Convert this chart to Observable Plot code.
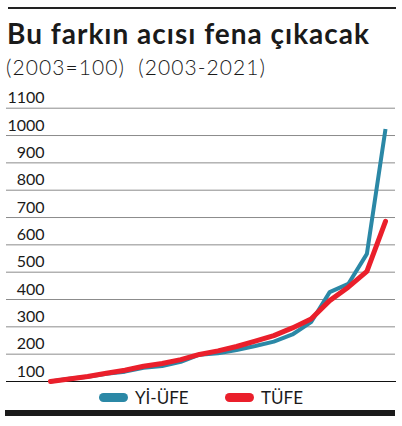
<!DOCTYPE html>
<html>
<head>
<meta charset="utf-8">
<script src="https://cdn.jsdelivr.net/npm/d3@7"></script>
<script src="https://cdn.jsdelivr.net/npm/@observablehq/plot@0.6"></script>
<style>
  html, body { margin: 0; padding: 0; background: #fff; }
  #wrap { position: relative; width: 402px; height: 426px; overflow: hidden; font-family: Lato, sans-serif; }
  #topline { position: absolute; left: 8px; top: 7px; width: 388px; height: 2px; background: #222; }
  #title { position: absolute; left: 7px; top: 16px; font-size: 28px; line-height: 34px; font-weight: 700; color: #1a1a1a; white-space: nowrap; }
  #subtitle { position: absolute; left: 6px; top: 54px; font-size: 21px; line-height: 26px; font-weight: 300; color: #1a1a1a; white-space: nowrap; }
  #chart { position: absolute; left: 0; top: 80px; }
  #chart svg { overflow: visible; }
  #legend { position: absolute; top: 386px; left: 0; width: 402px; height: 22px; font-size: 17px; color: #1a1a1a; }
  .item { position: absolute; top: 0; display: flex; align-items: center; height: 22px; }
  .sw { width: 29px; height: 9px; border-radius: 5px; margin-right: 7px; }
  #bottombar { position: absolute; left: 5px; top: 410px; width: 390px; height: 6px; background: #1a1a1a; }
</style>
</head>
<body>
<div id="wrap">
  <div id="topline"></div>
  <div id="title">Bu farkın acısı fena çıkacak</div>
  <div id="subtitle">(2003=100)&nbsp; (2003-2021)</div>
  <div id="chart"></div>
  <div id="legend"></div>
  <div id="bottombar"></div>
</div>
<script>
const years = [2003,2004,2005,2006,2007,2008,2009,2010,2011,2012,2013,2014,2015,2016,2017,2018,2019,2020,2021];
const yiufe = [100,110,117,128,136,150,157,172,198,203,215,230,246,272,317,427,457,567,1024];
const tufe  = [100,109,118,130,141,156,166,180,199,212,228,248,268,296,329,396,445,503,686];
const yTicks = [100,200,300,400,500,600,700,800,900,1000,1100];
const seriesNames = ["Yİ-ÜFE", "TÜFE"];
const seriesColors = ["#2b88a6", "#ea1f2b"];

// fit header texts to the widths seen in the reference
function fit(id, target) {
  const el = document.getElementById(id);
  const n = el.textContent.length;
  const w = el.getBoundingClientRect().width;
  el.style.letterSpacing = ((target - w) / (n - 1)) + "px";
}
fit("title", 362);
fit("subtitle", 259);

const data = [];
years.forEach((yr, i) => {
  data.push({year: yr, value: yiufe[i], series: seriesNames[0]});
  data.push({year: yr, value: tufe[i], series: seriesNames[1]});
});

const chart = Plot.plot({
  width: 402,
  height: 310,
  marginLeft: 50,
  marginRight: 17,
  marginTop: 27.7,
  marginBottom: 9,
  style: { fontFamily: "Lato, sans-serif", fontSize: "16px", color: "#1a1a1a", background: "transparent" },
  x: { domain: [2003, 2021], axis: null },
  y: { domain: [100, 1100], axis: null },
  color: { domain: seriesNames, range: seriesColors },
  marks: [
    Plot.ruleY(yTicks.filter(d => d > 100), { stroke: "#8c8c8c", strokeWidth: 1, insetLeft: -44, insetRight: -10 }),
    Plot.ruleY([100], { stroke: "#111", strokeWidth: 1.2, insetLeft: -44, insetRight: -11 }),
    Plot.axisY(yTicks, { anchor: "left", label: null, tickFormat: d => String(d), tickSize: 0, tickPadding: 6, dy: -10, fontSize: 16, fill: "#1a1a1a" }),
    Plot.line(data.filter(d => d.series === seriesNames[0]), { x: "year", y: "value", stroke: "series", strokeWidth: 4, strokeLinejoin: "miter", strokeLinecap: "butt" }),
    Plot.line(data.filter(d => d.series === seriesNames[1]), { x: "year", y: "value", stroke: "series", strokeWidth: 5, strokeLinejoin: "round", strokeLinecap: "round" })
  ]
});
document.getElementById("chart").appendChild(chart);

const legend = document.getElementById("legend");
const lefts = [99, 225];
seriesNames.forEach((n, i) => {
  const it = document.createElement("div");
  it.className = "item";
  it.style.left = lefts[i] + "px";
  const sw = document.createElement("div");
  sw.className = "sw";
  sw.style.background = seriesColors[i];
  const t = document.createElement("span");
  t.textContent = n;
  it.appendChild(sw); it.appendChild(t);
  legend.appendChild(it);
});
</script>
</body>
</html>
